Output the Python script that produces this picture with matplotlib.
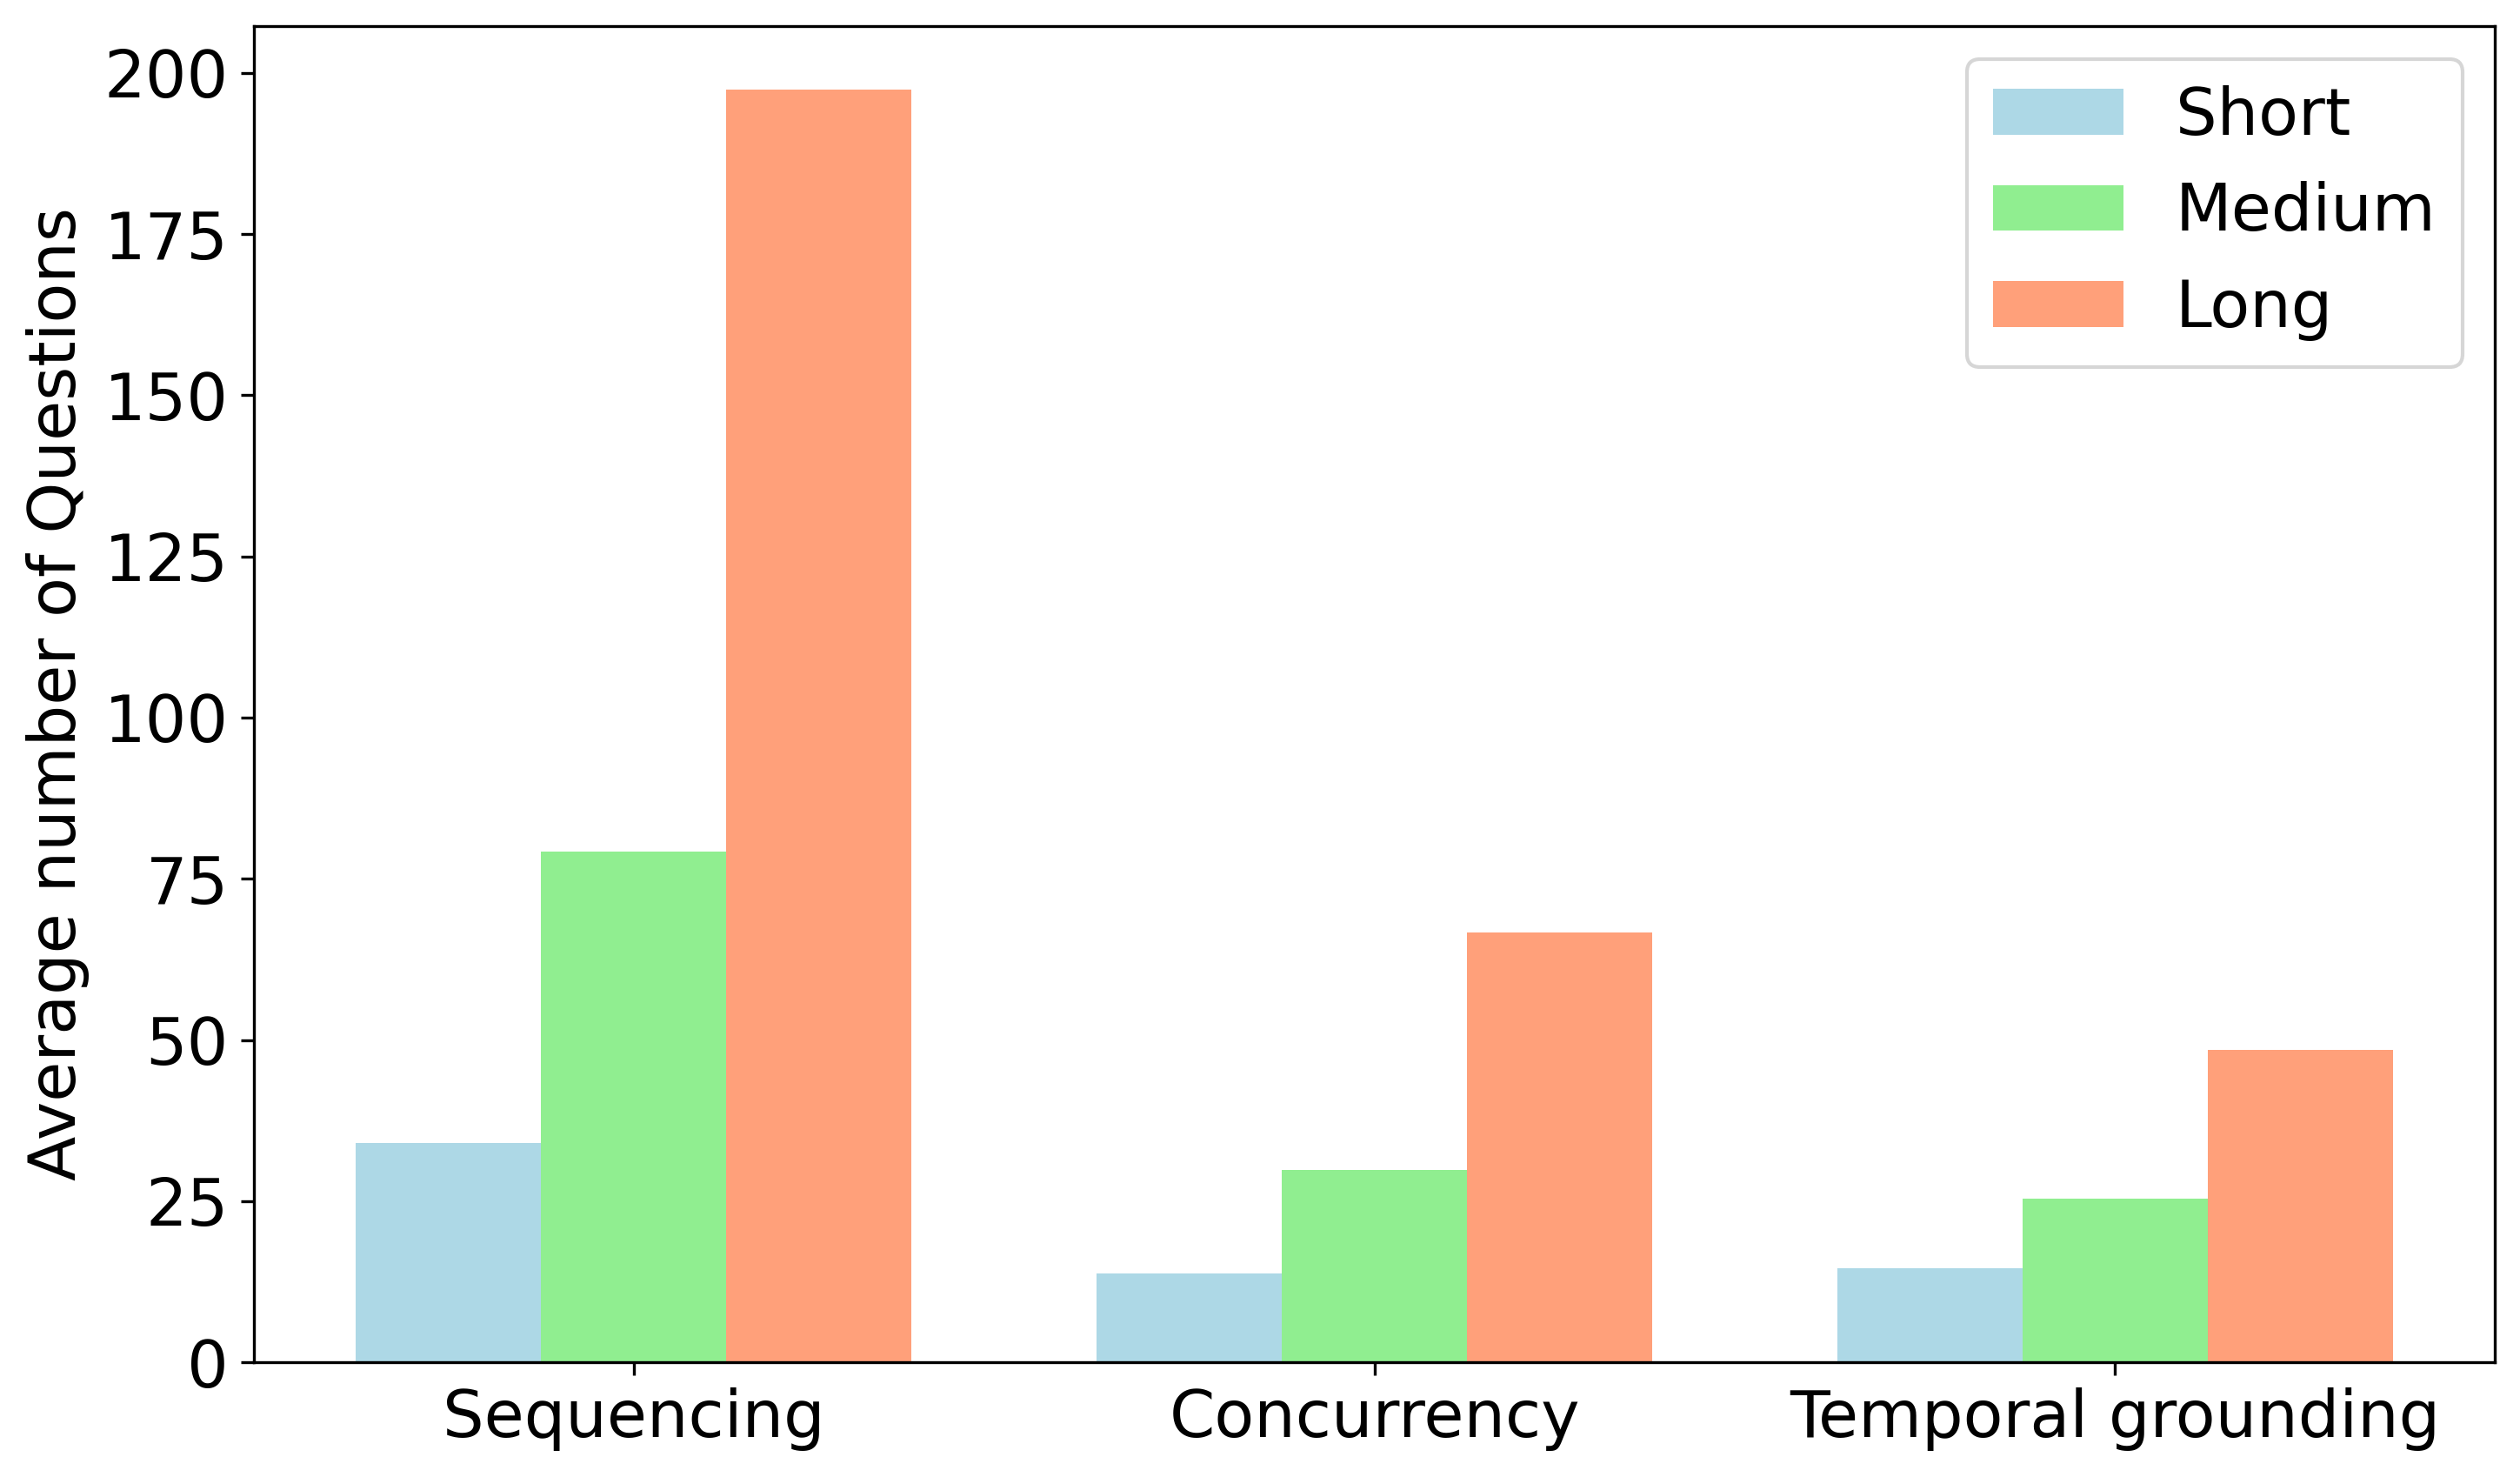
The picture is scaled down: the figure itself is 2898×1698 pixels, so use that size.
import matplotlib
matplotlib.use("Agg")
import matplotlib.pyplot as plt
import numpy as np

categories = ["Sequencing", "Concurrency", "Temporal grounding"]
series_names = ["Short", "Medium", "Long"]
short_vals = [34.0, 13.8, 14.6]
medium_vals = [79.2, 29.8, 25.4]
long_vals = [197.4, 66.7, 48.4]
colors = ["lightblue", "lightgreen", "lightsalmon"]

fig = plt.figure(figsize=(9.66, 5.66), dpi=300)
ax = fig.add_axes([0.1008, 0.0777, 0.8892, 0.9046])

x = np.arange(len(categories))
w = 0.25
for i, (name, vals, c) in enumerate(zip(series_names, [short_vals, medium_vals, long_vals], colors)):
    ax.bar(x + (i - 1) * w, vals, w, label=name, color=c)

ax.set_xticks(x)
ax.set_xticklabels(categories, fontsize=18)
ax.tick_params(axis="y", labelsize=18)
ax.set_ylabel("Average number of Questions", fontsize=18)
ax.legend(fontsize=18, loc="upper right")

fig.savefig("out.png", dpi=300)
